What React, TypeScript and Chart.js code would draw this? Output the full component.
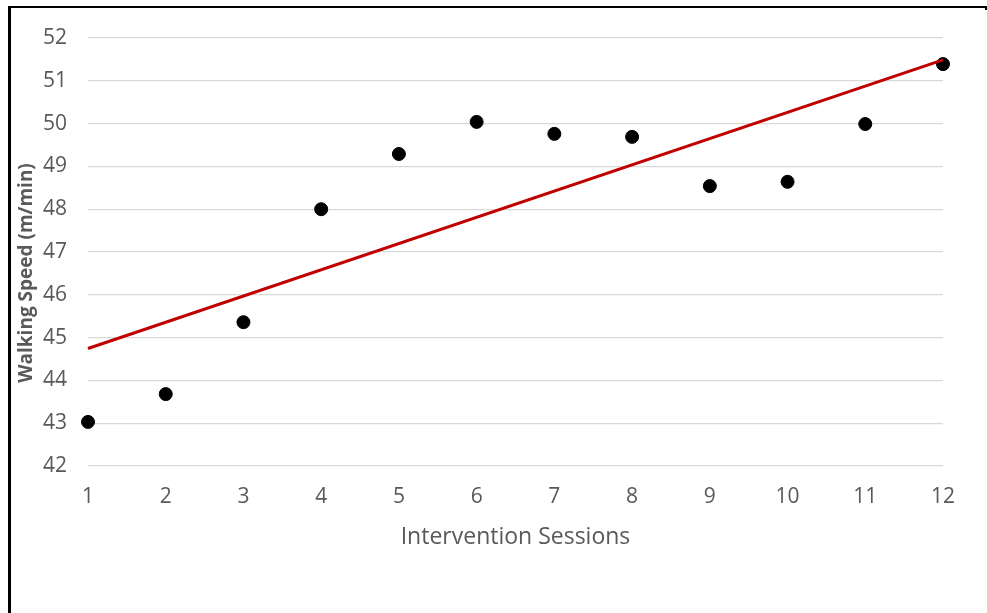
import React, { useEffect, useRef } from "react";
import { Chart, registerables } from "chart.js";

Chart.register(...registerables);

const sessions: number[] = [1, 2, 3, 4, 5, 6, 7, 8, 9, 10, 11, 12];
const speeds: number[] = [43.03, 43.68, 45.36, 48.0, 49.29, 50.04, 49.76, 49.69, 48.54, 48.64, 49.99, 51.39];
const yTicks: number[] = [42, 43, 44, 45, 46, 47, 48, 49, 50, 51, 52];
const xTitle = "Intervention Sessions";
const yTitle = "Walking Speed (m/min)";

function linearFit(xs: number[], ys: number[]) {
  const n = xs.length;
  const mx = xs.reduce((a, b) => a + b, 0) / n;
  const my = ys.reduce((a, b) => a + b, 0) / n;
  let sxy = 0;
  let sxx = 0;
  for (let i = 0; i < n; i++) {
    sxy += (xs[i] - mx) * (ys[i] - my);
    sxx += (xs[i] - mx) * (xs[i] - mx);
  }
  const slope = sxy / sxx;
  return { slope, intercept: my - slope * mx };
}

const FONT = "'Open Sans', 'Liberation Sans', sans-serif";

export default function App() {
  const ref = useRef<HTMLCanvasElement | null>(null);

  useEffect(() => {
    if (!ref.current) return;
    const fit = linearFit(sessions, speeds);
    const xFirst = sessions[0];
    const xLast = sessions[sessions.length - 1];
    const trend = [
      { x: xFirst, y: fit.intercept + fit.slope * xFirst },
      { x: xLast, y: fit.intercept + fit.slope * xLast },
    ];

    const yTitlePlugin = {
      id: "yTitlePlugin",
      afterDraw(chart: any) {
        const ctx = chart.ctx;
        ctx.save();
        ctx.translate(27, 273);
        ctx.rotate(-Math.PI / 2);
        ctx.textAlign = "center";
        ctx.textBaseline = "middle";
        ctx.fillStyle = "#595959";
        ctx.font = `bold 19px ${FONT}`;
        ctx.fillText(yTitle, 0, 0);
        ctx.restore();
      },
    };

    const chart = new Chart(ref.current, {
      type: "scatter",
      data: {
        datasets: [
          {
            type: "line",
            label: "Trend",
            data: trend,
            borderColor: "#C00000",
            borderWidth: 3,
            pointRadius: 0,
            fill: false,
            order: 0,
            clip: false as any,
          } as any,
          {
            type: "scatter",
            label: "Walking Speed",
            data: sessions.map((s, i) => ({ x: s, y: speeds[i] })),
            backgroundColor: "#000000",
            borderColor: "#000000",
            pointRadius: 6.5,
            pointHoverRadius: 6.5,
            order: 1,
            clip: false as any,
          } as any,
        ],
      },
      options: {
        responsive: false,
        animation: false,
        events: [],
        layout: { padding: { top: 38, right: 44, bottom: 0, left: 0 } },
        plugins: {
          legend: { display: false },
          tooltip: { enabled: false },
          title: { display: false },
        },
        scales: {
          x: {
            type: "linear",
            min: 1,
            max: 12,
            afterFit(scale: any) {
              scale.height = 147;
            },
            ticks: {
              stepSize: 1,
              color: "#595959",
              font: { family: FONT, size: 21 },
              padding: 18,
              maxRotation: 0,
            },
            grid: { display: false, drawTicks: false },
            border: { display: false },
            title: {
              display: true,
              text: xTitle,
              color: "#595959",
              font: { family: FONT, size: 23 },
              padding: { top: 0, bottom: 62 },
            },
          },
          y: {
            type: "linear",
            min: yTicks[0],
            max: yTicks[yTicks.length - 1],
            afterFit(scale: any) {
              scale.width = 88;
            },
            afterBuildTicks(scale: any) {
              scale.ticks = yTicks.map((v) => ({ value: v }));
            },
            ticks: {
              color: "#595959",
              font: { family: FONT, size: 21 },
              padding: 21,
            },
            grid: { color: "#D9D9D9", lineWidth: 1.3, drawTicks: false },
            border: { display: false },
          },
        },
      },
      plugins: [yTitlePlugin],
    });
    return () => chart.destroy();
  }, []);

  return (
    <div style={{ position: "fixed", left: 0, top: 0, width: 987, height: 613, background: "#fff" }}>
      <canvas ref={ref} width={987} height={613} style={{ position: "absolute", left: 0, top: 0, width: 987, height: 613 }} />
      <div style={{ position: "absolute", left: 8, top: 6, width: 978, height: 2, background: "#000" }} />
      <div style={{ position: "absolute", left: 8, top: 6, width: 3, height: 607, background: "#000" }} />
      <div style={{ position: "absolute", left: 985, top: 6, width: 2, height: 4, background: "#000" }} />
    </div>
  );
}
